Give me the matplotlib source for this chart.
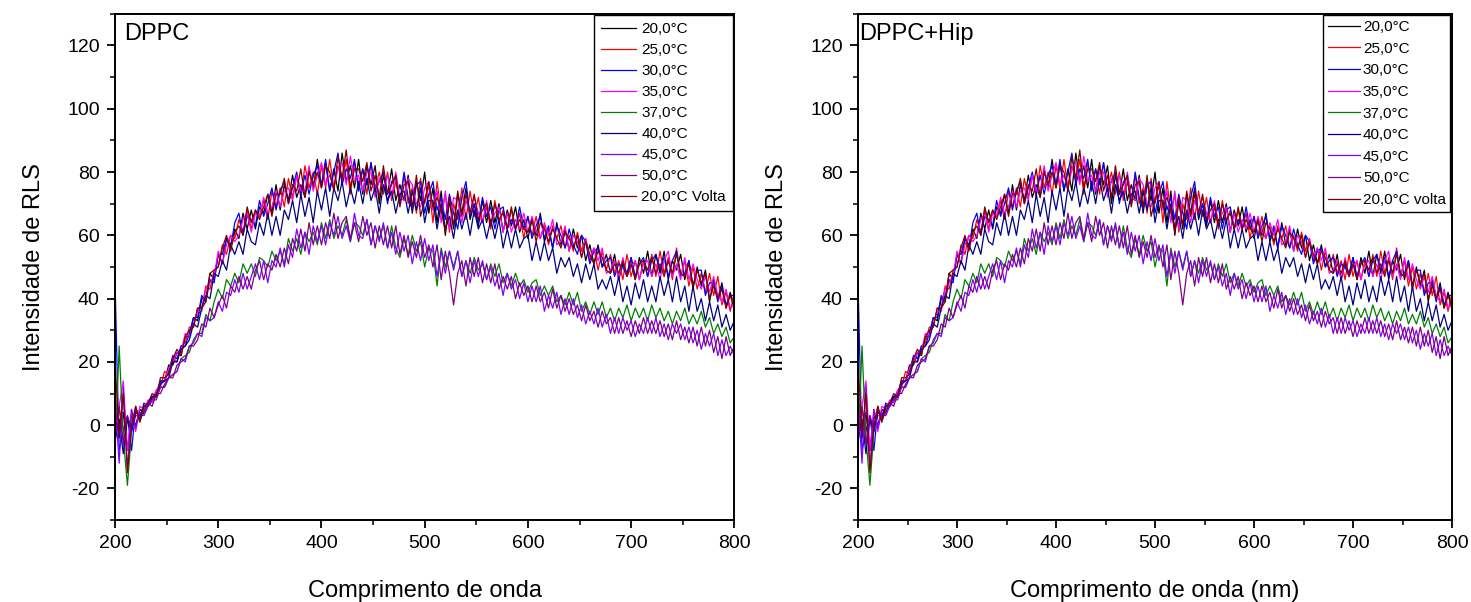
import numpy as np
import matplotlib
matplotlib.use("Agg")
import matplotlib.pyplot as plt
from matplotlib.ticker import MultipleLocator

plt.rcParams['font.family'] = ['Liberation Sans', 'DejaVu Sans']
plt.rcParams['axes.unicode_minus'] = False

# Wavelength grid (nm), 4 nm step
wavelength = np.arange(200, 801, 4)

# RLS intensity for each temperature
t20 = [8, -4, 4, -8, 3, 0, 5, 4, 7, 9,
       9, 14, 14, 19, 19, 23, 22, 28, 28, 34,
       33, 40, 40, 48, 46, 54, 51, 59, 57, 62,
       59, 67, 62, 68, 62, 69, 67, 73, 67, 76,
       68, 76, 71, 79, 72, 76, 72, 81, 75, 84,
       75, 83, 74, 81, 74, 86, 77, 82, 75, 84,
       73, 82, 76, 82, 70, 79, 73, 81, 71, 76,
       71, 79, 67, 77, 71, 80, 67, 75, 64, 74,
       60, 71, 62, 73, 67, 75, 65, 70, 63, 71,
       64, 71, 64, 70, 61, 68, 63, 69, 61, 65,
       59, 65, 60, 67, 58, 62, 56, 64, 57, 62,
       55, 62, 56, 60, 52, 57, 51, 57, 50, 54,
       48, 54, 46, 51, 48, 53, 46, 53, 48, 55,
       47, 54, 48, 55, 46, 52, 49, 54, 46, 52,
       43, 50, 44, 49, 39, 46, 40, 45, 37, 42,
       37]

t25 = [-1, 5, -1, 1, 0, 3, 3, 6, 6, 8,
       11, 12, 17, 16, 21, 20, 25, 26, 31, 31,
       37, 37, 44, 43, 49, 50, 57, 54, 60, 59,
       65, 61, 68, 62, 68, 66, 71, 65, 74, 69,
       75, 69, 78, 72, 79, 72, 82, 75, 80, 73,
       82, 75, 84, 75, 82, 77, 84, 73, 83, 76,
       81, 73, 83, 75, 80, 73, 80, 71, 77, 71,
       79, 70, 75, 67, 78, 70, 76, 64, 77, 67,
       73, 61, 70, 65, 75, 65, 74, 66, 72, 64,
       69, 62, 71, 64, 68, 62, 68, 62, 67, 59,
       66, 60, 66, 59, 63, 57, 63, 59, 63, 56,
       60, 55, 61, 55, 59, 52, 56, 49, 55, 49,
       54, 48, 52, 46, 54, 47, 52, 46, 52, 47,
       54, 47, 55, 48, 53, 46, 56, 47, 52, 44,
       50, 43, 48, 42, 48, 41, 47, 38, 42, 36,
       42]

t30 = [45, -8, -2, 3, -8, 5, 2, 7, 6, 9,
       10, 14, 14, 17, 22, 21, 25, 25, 29, 34,
       34, 41, 39, 46, 45, 54, 54, 59, 56, 64,
       67, 60, 66, 65, 63, 71, 66, 70, 75, 68,
       74, 77, 70, 75, 80, 73, 79, 73, 79, 82,
       76, 84, 74, 80, 86, 76, 81, 78, 84, 74,
       81, 76, 83, 74, 77, 80, 70, 77, 78, 70,
       80, 72, 68, 76, 77, 67, 73, 77, 68, 72,
       65, 73, 67, 62, 72, 77, 66, 70, 64, 72,
       66, 69, 62, 68, 69, 62, 65, 62, 69, 62,
       66, 59, 63, 66, 59, 63, 56, 63, 60, 56,
       62, 57, 54, 60, 58, 51, 55, 56, 50, 52,
       53, 47, 51, 50, 47, 53, 47, 51, 53, 47,
       52, 54, 49, 53, 47, 52, 55, 47, 48, 52,
       44, 49, 49, 41, 45, 45, 39, 44, 38, 41,
       41]

t35 = [-5, 6, 14, -8, 5, -2, 6, 5, 8, 7,
       11, 13, 14, 18, 20, 23, 23, 29, 28, 32,
       36, 36, 43, 45, 47, 55, 51, 57, 60, 58,
       60, 65, 67, 61, 67, 66, 72, 67, 69, 74,
       69, 74, 75, 71, 79, 74, 74, 82, 74, 79,
       83, 76, 79, 75, 81, 83, 76, 85, 77, 79,
       74, 80, 80, 72, 78, 75, 79, 72, 80, 72,
       71, 78, 76, 70, 69, 75, 77, 68, 74, 64,
       74, 62, 72, 71, 64, 71, 67, 72, 67, 64,
       71, 64, 67, 69, 61, 67, 61, 65, 62, 67,
       61, 66, 61, 59, 64, 60, 65, 57, 58, 63,
       55, 60, 58, 53, 59, 53, 56, 52, 56, 48,
       49, 52, 46, 53, 47, 50, 52, 46, 51, 52,
       47, 51, 46, 52, 55, 47, 51, 46, 53, 46,
       51, 46, 43, 47, 42, 47, 41, 39, 43, 37,
       38]

t37 = [-8, 25, -4, -19, -2, 6, 1, 5, 6, 8,
       9, 12, 12, 15, 16, 17, 21, 22, 23, 27,
       29, 29, 35, 33, 39, 43, 40, 46, 44, 48,
       45, 51, 48, 51, 47, 53, 52, 50, 55, 52,
       55, 51, 59, 55, 59, 54, 61, 58, 61, 57,
       64, 59, 65, 59, 63, 60, 65, 58, 64, 63,
       60, 65, 57, 63, 59, 63, 56, 63, 56, 53,
       59, 54, 60, 55, 58, 50, 56, 55, 44, 56,
       50, 55, 50, 55, 47, 52, 48, 53, 49, 51,
       46, 51, 47, 51, 45, 48, 44, 48, 44, 46,
       42, 45, 46, 41, 44, 41, 44, 39, 41, 38,
       42, 38, 42, 36, 39, 35, 39, 35, 39, 34,
       37, 33, 37, 34, 38, 33, 37, 34, 37, 33,
       38, 34, 37, 33, 36, 32, 36, 33, 37, 32,
       35, 32, 36, 31, 34, 29, 32, 28, 31, 26,
       28]

t40 = [-5, 2, -9, 2, -2, 4, 3, 6, 6, 9,
       9, 13, 14, 15, 20, 20, 24, 25, 27, 32,
       31, 37, 41, 40, 48, 47, 52, 49, 57, 54,
       58, 54, 62, 58, 57, 64, 60, 67, 60, 66,
       60, 68, 65, 71, 64, 73, 66, 72, 64, 74,
       68, 75, 66, 75, 71, 77, 69, 75, 70, 77,
       70, 78, 71, 75, 67, 76, 71, 74, 67, 73,
       74, 67, 74, 68, 75, 64, 71, 71, 62, 70,
       62, 66, 59, 68, 62, 67, 60, 68, 62, 65,
       59, 65, 59, 65, 56, 62, 56, 62, 56, 59,
       60, 52, 58, 52, 58, 52, 56, 48, 53, 50,
       53, 47, 51, 45, 51, 46, 51, 43, 46, 43,
       47, 41, 47, 39, 44, 38, 45, 40, 46, 39,
       44, 39, 47, 41, 46, 39, 47, 39, 44, 36,
       44, 36, 40, 33, 39, 33, 38, 31, 35, 30,
       33]

t45 = [8, -12, 12, -14, 5, -1, 4, 3, 6, 8,
       8, 12, 12, 15, 16, 17, 21, 20, 25, 26,
       29, 28, 34, 33, 34, 39, 36, 42, 41, 46,
       42, 48, 43, 47, 51, 46, 52, 45, 52, 50,
       56, 50, 57, 53, 62, 56, 61, 54, 63, 58,
       63, 57, 64, 60, 66, 59, 63, 58, 67, 60,
       59, 65, 57, 63, 58, 64, 56, 61, 54, 61,
       55, 60, 51, 58, 52, 59, 52, 57, 47, 55,
       48, 55, 49, 55, 47, 52, 45, 52, 47, 52,
       46, 50, 44, 48, 41, 48, 43, 46, 40, 45,
       39, 44, 39, 44, 36, 41, 37, 42, 35, 40,
       35, 40, 34, 38, 32, 36, 32, 37, 31, 35,
       29, 34, 29, 34, 30, 33, 28, 32, 29, 34,
       29, 34, 28, 32, 27, 32, 29, 32, 27, 31,
       26, 30, 24, 29, 25, 29, 22, 27, 22, 25,
       22]

t50 = [-2, 6, -6, 3, -1, 5, 2, 4, 7, 6,
       10, 10, 13, 15, 15, 19, 20, 21, 25, 25,
       27, 32, 31, 37, 34, 38, 41, 37, 44, 42,
       47, 43, 47, 43, 49, 52, 46, 51, 49, 54,
       50, 56, 51, 59, 55, 62, 55, 64, 57, 63,
       57, 64, 59, 67, 59, 64, 66, 59, 64, 58,
       66, 60, 64, 56, 63, 57, 63, 56, 63, 54,
       60, 53, 58, 53, 60, 53, 57, 50, 57, 46,
       55, 48, 38, 48, 52, 44, 53, 47, 53, 45,
       51, 45, 51, 43, 47, 43, 47, 40, 45, 41,
       44, 39, 44, 39, 42, 37, 43, 37, 41, 36,
       40, 35, 38, 33, 38, 33, 36, 31, 36, 32,
       34, 29, 34, 29, 33, 28, 33, 29, 34, 29,
       33, 29, 33, 28, 32, 27, 33, 27, 31, 26,
       31, 25, 31, 25, 30, 23, 28, 21, 28, 22,
       25]

t20_back = [20, -3, 10, -15, 0, 6, 1, 6, 7, 10,
            9, 15, 15, 16, 21, 24, 22, 28, 30, 31,
            37, 37, 39, 48, 49, 50, 56, 60, 55, 61,
            63, 60, 69, 64, 68, 65, 69, 73, 66, 73,
            73, 78, 70, 76, 74, 81, 72, 80, 76, 80,
            75, 82, 80, 74, 85, 78, 87, 75, 81, 81,
            77, 83, 74, 79, 72, 82, 73, 76, 79, 69,
            76, 77, 69, 79, 66, 71, 77, 69, 72, 68,
            61, 72, 63, 74, 66, 73, 67, 73, 65, 68,
            70, 63, 70, 65, 67, 62, 69, 62, 65, 62,
            61, 65, 58, 64, 62, 58, 62, 59, 56, 61,
            59, 56, 60, 53, 58, 54, 51, 55, 53, 49,
            48, 51, 48, 52, 47, 51, 46, 51, 52, 49,
            53, 48, 51, 47, 52, 48, 54, 48, 47, 51,
            44, 49, 45, 48, 40, 44, 40, 43, 37, 41,
            37]

series = [t20, t25, t30, t35, t37, t40, t45, t50, t20_back]
colors = ['#000000', '#FF0000', '#0000FF', '#FF00FF', '#008000',
          '#000080', '#8000FF', '#800080', '#800000']
labels_left = ['20,0°C', '25,0°C', '30,0°C', '35,0°C', '37,0°C',
               '40,0°C', '45,0°C', '50,0°C', '20,0°C Volta']
labels_right = labels_left[:-1] + ['20,0°C volta']

panels = [
    dict(rect=[0.0782, 0.136, 0.421, 0.841], title='DPPC', title_x=0.014,
         xlabel='Comprimento de onda', labels=labels_left,
         leg=dict(borderpad=0.45, handlelength=2.3, handletextpad=0.35,
                  labelspacing=0.46)),
    dict(rect=[0.5833, 0.136, 0.4038, 0.841], title='DPPC+Hip', title_x=0.002,
         xlabel='Comprimento de onda (nm)', labels=labels_right,
         leg=dict(borderpad=0.3, handlelength=2.1, handletextpad=0.2,
                  labelspacing=0.5)),
]

fig = plt.figure(figsize=(14.71, 6.02), dpi=100)

for p in panels:
    ax = fig.add_axes(p['rect'])
    for y, c, lab in zip(series, colors, p['labels']):
        ax.plot(wavelength, y, color=c, lw=0.9, label=lab)
    ax.set_xlim(200, 800)
    ax.set_ylim(-30, 130)
    ax.xaxis.set_major_locator(MultipleLocator(100))
    ax.xaxis.set_minor_locator(MultipleLocator(50))
    ax.yaxis.set_major_locator(MultipleLocator(20))
    ax.yaxis.set_minor_locator(MultipleLocator(10))
    ax.set_yticks(range(-20, 121, 20))
    ax.tick_params(which='major', direction='out', length=6, width=1.3,
                   labelsize=14, top=False, right=False, pad=5)
    ax.tick_params(which='minor', direction='out', length=3.5, width=1.1,
                   top=False, right=False)
    for s in ax.spines.values():
        s.set_linewidth(1.4)
    ax.set_xlabel(p['xlabel'], fontsize=17, labelpad=20)
    ax.set_ylabel('Intensidade de RLS', fontsize=17, labelpad=16)
    ax.text(p['title_x'], 0.982, p['title'], transform=ax.transAxes,
            fontsize=17, va='top', ha='left')
    leg = ax.legend(loc='upper right', fontsize=11, frameon=True,
                    fancybox=False, framealpha=1, edgecolor='black',
                    borderaxespad=0.1, **p['leg'])
    leg.get_frame().set_linewidth(1.0)

fig.savefig('out.png', dpi=100)
